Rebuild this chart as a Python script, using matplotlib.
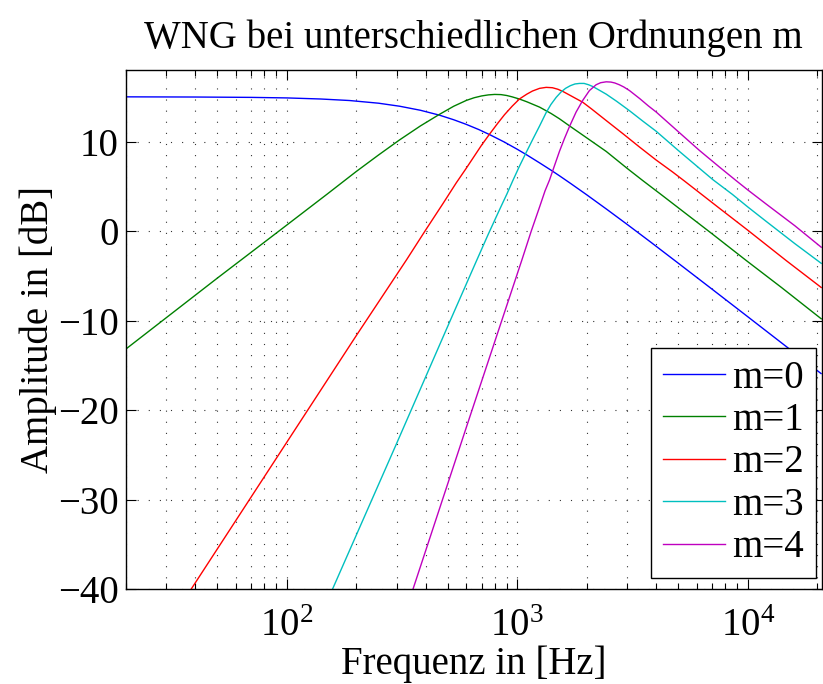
import matplotlib
matplotlib.use("Agg")
import matplotlib.pyplot as plt
from matplotlib.ticker import FixedLocator, NullFormatter, LogFormatterMathtext

plt.rcParams['font.family'] = ['Liberation Serif', 'DejaVu Serif']
plt.rcParams['mathtext.fontset'] = 'custom'
plt.rcParams['mathtext.rm'] = 'Liberation Serif'
plt.rcParams['mathtext.it'] = 'Liberation Serif:italic'
plt.rcParams['mathtext.bf'] = 'Liberation Serif:bold'

# ---- data ----
freq_m0 = [20, 40, 70, 100, 140, 187, 250, 309, 380, 460, 530, 600, 680, 760, 880,
           1000, 1100, 1250, 1400, 1520, 1700, 2000, 2440, 3000, 3800, 5060, 7000,
           10000, 15100, 20800]
db_m0 = [15.0, 14.98, 14.94, 14.88, 14.76, 14.59, 14.29, 13.95, 13.50, 12.95, 12.44,
         11.93, 11.35, 10.77, 9.94, 9.14, 8.51, 7.62, 6.81, 6.20, 5.34, 4.06, 2.45,
         0.74, -1.25, -3.70, -6.49, -9.57, -13.14, -15.92]

freq_m1 = [20, 50, 93, 150, 200, 250, 309, 380, 460, 530, 601, 650, 700, 750, 798, 850,
           900, 950, 1023, 1100, 1250, 1400, 1524, 1686, 1918, 2432, 3000, 3501, 4200,
           5057, 7000, 9863, 14000, 20830]
db_m1 = [-13.2, -5.25, 0.05, 4.15, 6.65, 8.5, 10.2, 11.75, 13.05, 13.95, 14.6, 14.9,
         15.1, 15.22, 15.27, 15.25, 15.15, 15.0, 14.75, 14.45, 13.85, 13.15, 12.55,
         11.75, 10.75, 8.9, 7.0, 5.65, 4.1, 2.5, -0.3, -3.3, -6.3, -9.8]

freq_m2 = [38.5, 100, 200, 331, 400, 474, 544, 600, 650, 700, 759, 820, 880, 950, 1023,
           1100, 1164, 1250, 1335, 1420, 1500, 1578, 1700, 1800, 1923, 2100, 2432, 2900,
           3388, 4000, 4722, 5309, 6200, 7534, 10000, 14690, 20830]
db_m2 = [-40.0, -23.6, -11.7, -3.2, 0.1, 3.0, 5.4, 7.0, 8.35, 9.6, 10.85, 12.0, 13.0,
         13.95, 14.77, 15.3, 15.65, 15.95, 16.06, 16.02, 15.85, 15.6, 15.15, 14.8, 14.4,
         13.65, 12.35, 10.8, 9.4, 7.95, 6.6, 5.6, 4.25, 2.55, 0.1, -3.3, -6.3]

freq_m3 = [158, 300, 500, 666, 750, 838, 900, 957, 1020, 1094, 1170, 1250, 1335, 1400,
           1476, 1550, 1620, 1700, 1780, 1862, 1950, 2040, 2128, 2250, 2432, 2700, 3069,
           3500, 4008, 5000, 6179, 7055, 8577, 10000, 12000, 16000, 20830]
db_m3 = [-40.0, -23.7, -10.6, -3.3, -0.3, 2.4, 4.1, 5.65, 7.2, 8.8, 10.3, 11.75, 13.25,
         14.15, 14.95, 15.55, 15.95, 16.25, 16.44, 16.5, 16.5, 16.35, 16.15, 15.8, 15.3,
         14.5, 13.45, 12.3, 11.15, 9.0, 7.0, 5.75, 4.1, 2.7, 1.1, -1.4, -3.6]

freq_m4 = [353, 600, 800, 1045, 1150, 1250, 1320, 1380, 1450, 1524, 1600, 1686, 1800,
           1923, 2056, 2198, 2300, 2432, 2550, 2650, 2773, 2900, 3069, 3400, 3700, 4008,
           5000, 6179, 7500, 8893, 10000, 12050, 16000, 20830]
db_m4 = [-40.0, -22.0, -12.3, -3.3, 0.0, 2.7, 4.5, 5.7, 7.3, 8.9, 10.3, 11.7, 13.3,
         14.6, 15.7, 16.35, 16.58, 16.68, 16.65, 16.55, 16.35, 16.1, 15.7, 14.8, 14.0,
         13.3, 11.1, 9.0, 7.2, 5.65, 4.6, 3.0, 0.6, -1.8]

labels = ["m=0", "m=1", "m=2", "m=3", "m=4"]
colors = ["#0000ff", "#008000", "#ff0000", "#00bfbf", "#bf00bf"]

x_major = [100, 1000, 10000]
x_minor = [20, 30, 40, 50, 60, 70, 80, 90, 200, 300, 400, 500, 600, 700, 800, 900,
           2000, 3000, 4000, 5000, 6000, 7000, 8000, 9000, 20000]
y_ticks = [-40, -30, -20, -10, 0, 10]

title = "WNG bei unterschiedlichen Ordnungen m"
xlabel = "Frequenz in [Hz]"
ylabel = "Amplitude in [dB]"

# ---- figure ----
fig = plt.figure(figsize=(8.23, 6.84), dpi=100)
ax = fig.add_axes([125.7 / 823, 1 - 589 / 684, (822 - 125.7) / 823, (589 - 70) / 684])

series = [(freq_m0, db_m0), (freq_m1, db_m1), (freq_m2, db_m2),
          (freq_m3, db_m3), (freq_m4, db_m4)]
for (f, d), lab, c in zip(series, labels, colors):
    ax.plot(f, d, color=c, lw=1.0, label=lab)

ax.set_xscale('log')
ax.set_xlim(20, 21000)
ax.set_ylim(-40, 18)
ax.xaxis.set_major_locator(FixedLocator(x_major))
ax.xaxis.set_minor_locator(FixedLocator(x_minor))
ax.xaxis.set_major_formatter(LogFormatterMathtext())
ax.xaxis.set_minor_formatter(NullFormatter())
ax.set_yticks(y_ticks)

fs = 28
ax.tick_params(axis='both', which='both', direction='in', top=True, right=True,
               labelsize=fs, width=0.8, colors='black')
ax.tick_params(which='major', length=7)
ax.tick_params(which='minor', length=4)
ax.tick_params(axis='x', pad=14)
ax.tick_params(axis='y', pad=5)

grid_kw = dict(color='black', lw=0.8, linestyle=(0, (1, 9)), alpha=0.8)
ax.grid(True, which='major', axis='both', **grid_kw)
ax.grid(True, which='minor', axis='x', **grid_kw)

for s in ax.spines.values():
    s.set_linewidth(1.0)
    s.set_color('black')

ax.set_title(title, fontsize=fs, pad=16)
ax.set_xlabel(xlabel, fontsize=fs, labelpad=0)
ax.set_ylabel(ylabel, fontsize=fs, labelpad=1)

leg = ax.legend(loc='lower right', bbox_to_anchor=(0.9914, 0.0212), borderaxespad=0,
                fontsize=fs, frameon=True, fancybox=False, edgecolor='black',
                framealpha=1.0, borderpad=0.3, labelspacing=0.14,
                handlelength=1.6, handletextpad=0.2)
leg.get_frame().set_linewidth(1.0)

fig.savefig("out.png", dpi=100)
